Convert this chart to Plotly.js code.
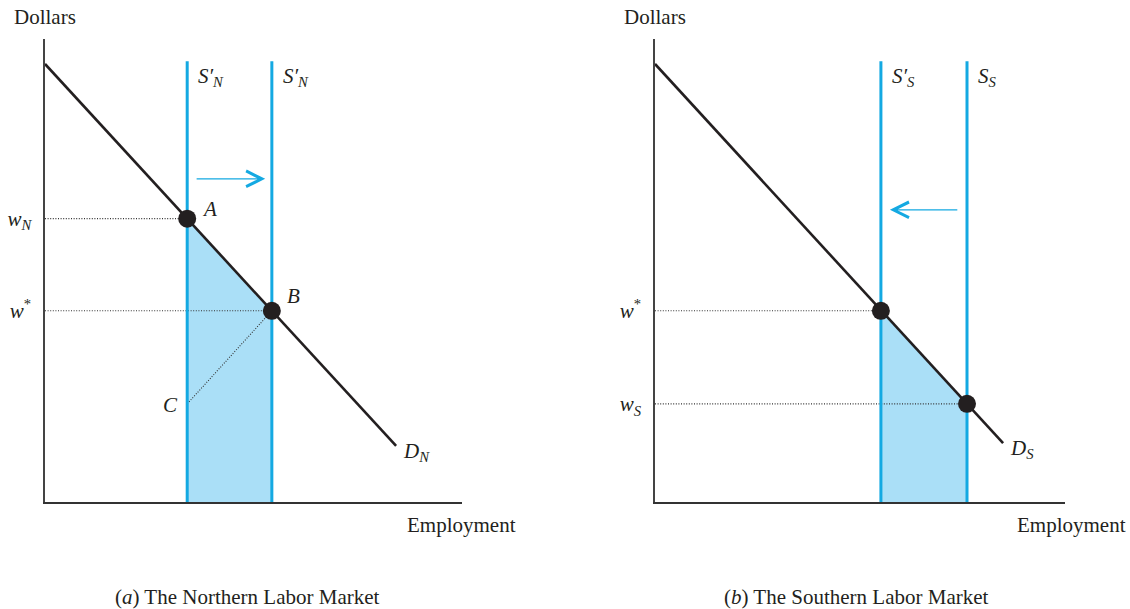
<!DOCTYPE html>
<html><head><meta charset="utf-8">
<script src="https://cdn.plot.ly/plotly-3.0.1.min.js"></script>
<style>html,body{margin:0;padding:0;background:#fff}</style>
</head><body><div id="chart" style="width:1130px;height:609px"></div>
<script>
// ---------- Panel (a): Northern labor market ----------
const northDemandX = [0, 84.2];
const northDemandY = [94.6, 12.1];
const northSupplyX = [34.1, 54.4];
const northSupplyLabels = ['<i>S′</i><sub><i>N</i></sub>', '<i>S′</i><sub><i>N</i></sub>'];
const supplyTop = 95.2;
const northPointX = [34.1, 54.4];
const northPointY = [61.2, 41.3];
const northPointLabels = ['A', 'B'];
const northC = [34.1, 21.2];
const northWageVals = [61.2, 41.3];
const northWageText = ['<i>w</i><sub><i>N</i></sub>', '<i>w</i><sup>*</sup>'];
const northArrowX = [36.0, 52.8];
const northArrowY = [69.8, 69.8];

// ---------- Panel (b): Southern labor market ----------
const southDemandX = [0, 84.9];
const southDemandY = [94.6, 12.7];
const southSupplyX = [55.1, 76.1];
const southSupplyLabels = ['<i>S′</i><sub><i>S</i></sub>', '<i>S</i><sub><i>S</i></sub>'];
const southPointX = [55.1, 76.1];
const southPointY = [41.3, 21.2];
const southWageVals = [41.3, 21.2];
const southWageText = ['<i>w</i><sup>*</sup>', '<i>w</i><sub><i>S</i></sub>'];
const southArrowX = [74.1, 57.3];
const southArrowY = [63.1, 63.1];

const BLUE = '#14a9e2', FILL = '#aadff7', INK = '#231f20';
const FONT = 'Liberation Serif, Times New Roman, serif';
const FS = 21;

function panel(xa, ya, dX, dY, sX, pX, pY, wages, extra) {
  const traces = [];
  // shaded area under demand between the two supply curves
  traces.push({x: [pX[0], pX[1], pX[1], pX[0]], y: [pY[0], pY[1], 0, 0], fill: 'toself',
    fillcolor: FILL, mode: 'lines', line: {width: 0}, xaxis: xa, yaxis: ya, hoverinfo: 'skip'});
  // dotted wage lines
  const dx = [], dy = [];
  wages.forEach((w, i) => { dx.push(0, pX[i], null); dy.push(w, w, null); });
  if (extra) { dx.push(extra[0][0], extra[1][0], null); dy.push(extra[0][1], extra[1][1], null); }
  traces.push({x: dx, y: dy, mode: 'lines', line: {color: '#333', width: 1.1, dash: '1px,1.6px'}, xaxis: xa, yaxis: ya});
  // supply curves
  const sx = [], sy = [];
  sX.forEach(v => { sx.push(v, v, null); sy.push(0, supplyTop, null); });
  traces.push({x: sx, y: sy, mode: 'lines', line: {color: BLUE, width: 3}, xaxis: xa, yaxis: ya});
  // demand curve
  traces.push({x: dX, y: dY, mode: 'lines', line: {color: INK, width: 2.6}, xaxis: xa, yaxis: ya});
  // equilibrium points
  traces.push({x: pX, y: pY, mode: 'markers', marker: {color: INK, size: 18}, xaxis: xa, yaxis: ya, cliponaxis: false});
  return traces;
}

const data = [].concat(
  panel('x', 'y', northDemandX, northDemandY, northSupplyX, northPointX, northPointY, northWageVals,
        [northC, [northPointX[1], northPointY[1]]]),
  panel('x2', 'y2', southDemandX, southDemandY, southSupplyX, southPointX, southPointY, southWageVals, null)
);

const txt = (xref, yref, x, y, text, opts) => Object.assign({xref, yref, x, y, text, showarrow: false,
  font: {family: FONT, size: FS, color: INK}}, opts || {});

const ann = [];
// axis titles & captions
ann.push(txt('paper', 'paper', 12/1130, 1 - 17/609, 'Dollars', {xanchor: 'left', yanchor: 'middle'}));
ann.push(txt('paper', 'paper', 622/1130, 1 - 17/609, 'Dollars', {xanchor: 'left', yanchor: 'middle'}));
ann.push(txt('paper', 'paper', 518/1130, 1 - 525/609, 'Employment', {xanchor: 'right', yanchor: 'middle'}));
ann.push(txt('paper', 'paper', 1128/1130, 1 - 525/609, 'Employment', {xanchor: 'right', yanchor: 'middle'}));
ann.push(txt('paper', 'paper', 247/1130, 1 - 597/609, '(<i>a</i>) The Northern Labor Market', {xanchor: 'center', yanchor: 'middle'}));
ann.push(txt('paper', 'paper', 856/1130, 1 - 597/609, '(<i>b</i>) The Southern Labor Market', {xanchor: 'center', yanchor: 'middle'}));
// supply labels
northSupplyX.forEach((v, i) => ann.push(txt('x', 'y', v, supplyTop, northSupplyLabels[i], {xanchor: 'left', yanchor: 'top', xshift: 9, yshift: -1})));
southSupplyX.forEach((v, i) => ann.push(txt('x2', 'y2', v, supplyTop, southSupplyLabels[i], {xanchor: 'left', yanchor: 'top', xshift: 9, yshift: -1})));
// point labels
ann.push(txt('x', 'y', northPointX[0], northPointY[0], '<i>' + northPointLabels[0] + '</i>', {xanchor: 'left', yanchor: 'middle', xshift: 13, yshift: 10}));
ann.push(txt('x', 'y', northPointX[1], northPointY[1], '<i>' + northPointLabels[1] + '</i>', {xanchor: 'left', yanchor: 'middle', xshift: 13, yshift: 15}));
ann.push(txt('x', 'y', northC[0], northC[1], '<i>C</i>', {xanchor: 'right', yanchor: 'middle', xshift: -7, yshift: -1}));
// demand labels
ann.push(txt('x', 'y', northDemandX[1], northDemandY[1], '<i>D</i><sub><i>N</i></sub>', {xanchor: 'left', yanchor: 'middle', xshift: 5, yshift: -6}));
ann.push(txt('x2', 'y2', southDemandX[1], southDemandY[1], '<i>D</i><sub><i>S</i></sub>', {xanchor: 'left', yanchor: 'middle', xshift: 5, yshift: -6}));
// shift arrows (open chevron heads)
ann.push({xref: 'x', yref: 'y', axref: 'x', ayref: 'y', x: northArrowX[1], y: northArrowY[1], ax: northArrowX[0], ay: northArrowY[0],
  text: '', showarrow: true, arrowhead: 5, arrowsize: 2.2, arrowwidth: 1.4, arrowcolor: BLUE, standoff: 0, startstandoff: 0});
ann.push({xref: 'x2', yref: 'y2', axref: 'x2', ayref: 'y2', x: southArrowX[1], y: southArrowY[1], ax: southArrowX[0], ay: southArrowY[0],
  text: '', showarrow: true, arrowhead: 5, arrowsize: 2.2, arrowwidth: 1.4, arrowcolor: BLUE, standoff: 0, startstandoff: 0});

const yDom = [(609 - 502) / 609, (609 - 39) / 609];
const xBase = {range: [0, 100], showline: true, linecolor: '#333', linewidth: 1.5, showgrid: false, zeroline: false,
  showticklabels: false, ticks: '', fixedrange: true};
const yBase = (vals, text) => ({range: [0, 100], showline: true, linecolor: '#444', linewidth: 1.6, showgrid: false, zeroline: false,
  tickvals: vals, ticktext: text, ticks: '', ticklabelstandoff: 8, tickfont: {family: FONT, size: FS, color: INK}, fixedrange: true, domain: yDom});

const layout = {
  width: 1130, height: 609, margin: {l: 0, r: 0, t: 0, b: 0}, showlegend: false,
  paper_bgcolor: '#fff', plot_bgcolor: 'rgba(0,0,0,0)',
  xaxis: Object.assign({}, xBase, {domain: [45/1130, 462/1130], anchor: 'y'}),
  yaxis: Object.assign(yBase(northWageVals, northWageText), {anchor: 'x'}),
  xaxis2: Object.assign({}, xBase, {domain: [655/1130, 1065/1130], anchor: 'y2'}),
  yaxis2: Object.assign(yBase(southWageVals, southWageText), {anchor: 'x2'}),
  annotations: ann
};

Plotly.newPlot('chart', data, layout, {displayModeBar: false, staticPlot: true});
</script></body></html>
